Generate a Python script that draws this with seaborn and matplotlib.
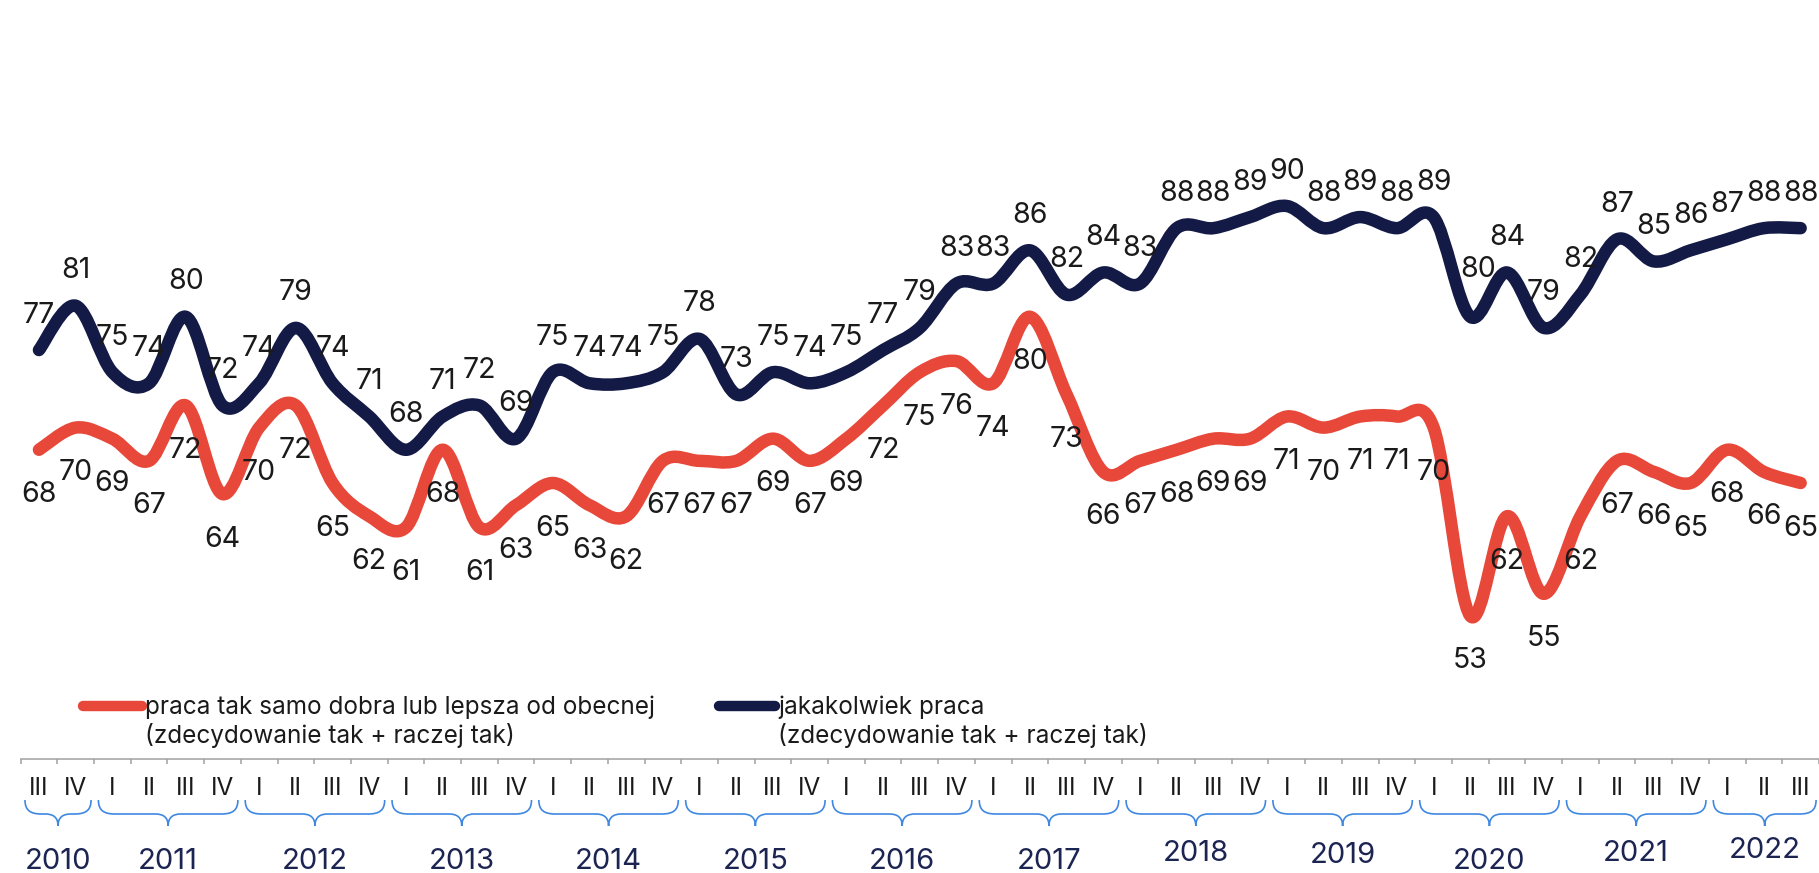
import numpy as np
import matplotlib
matplotlib.use("Agg")
import matplotlib.pyplot as plt
import matplotlib.transforms as mtransforms
from matplotlib.path import Path
from matplotlib.patches import PathPatch
from matplotlib.lines import Line2D
import seaborn as sns

# --- data -----------------------------------------------------------------
years = ["2010", "2011", "2012", "2013", "2014", "2015", "2016",
         "2017", "2018", "2019", "2020", "2021", "2022"]
year_quarters = [["III", "IV"]] + [["I", "II", "III", "IV"]] * 11 + [["I", "II", "III"]]
quarter_labels = [q for qs in year_quarters for q in qs]

any_job = [77, 81, 75, 74, 80, 72, 74, 79, 74, 71, 68, 71, 72, 69, 75, 74, 74,
           75, 78, 73, 75, 74, 75, 77, 79, 83, 83, 86, 82, 84, 83, 88, 88, 89,
           90, 88, 89, 88, 89, 80, 84, 79, 82, 87, 85, 86, 87, 88, 88]
good_job = [68, 70, 69, 67, 72, 64, 70, 72, 65, 62, 61, 68, 61, 63, 65, 63, 62,
            67, 67, 67, 69, 67, 69, 72, 75, 76, 74, 80, 73, 66, 67, 68, 69, 69,
            71, 70, 71, 71, 70, 53, 62, 55, 62, 67, 66, 65, 68, 66, 65]

label_good = ["praca tak samo dobra lub lepsza od obecnej", "(zdecydowanie tak + raczej tak)"]
label_any = ["jakakolwiek praca", "(zdecydowanie tak + raczej tak)"]

# small vertical nudges (px) of the year captions, as in the original
year_dy = [0, 0, 0, 0, 0, 0, 0, 0, -8, -6, 0, -8, -11]
# label nudges (px) for the dark series where the label sits off the default spot
any_nudge = {39: (8, 12)}

RED = "#E8483A"
NAVY = "#131A45"
BRACE = "#3F88E2"
YEARCOL = "#1C2452"
TXT = "#1a1a1a"
GRAY = "#a0a0a0"

W, H = 1819, 873

sns.set_theme(style="white")
plt.rcParams["font.family"] = ["Inter", "DejaVu Sans"]


def fx(px):
    return px / W


def fy(py):
    return 1 - py / H


def smooth_path(xs, ys):
    # Catmull-Rom style smoothing, drawn as cubic bezier segments
    pts = np.column_stack([xs, ys]).astype(float)
    n = len(pts)
    verts = [pts[0]]
    codes = [Path.MOVETO]
    for i in range(n - 1):
        p0 = pts[max(i - 1, 0)]
        p1 = pts[i]
        p2 = pts[i + 1]
        p3 = pts[min(i + 2, n - 1)]
        verts += [p1 + (p2 - p0) / 6, p2 - (p3 - p1) / 6, p2]
        codes += [Path.CURVE4] * 3
    return Path(verts, codes)


fig = plt.figure(figsize=(W / 100, H / 100), dpi=100)
ax = fig.add_axes([fx(20.6), fy(759), 1 - fx(20.6), 759 / H])

x = np.arange(len(any_job))
ax.set_xlim(-0.5, len(x) - 0.5)
ax.set_ylim(90 - 553 / 11.08, 90 + 206 / 11.08)

for vals, col in [(good_job, RED), (any_job, NAVY)]:
    patch = PathPatch(smooth_path(x, vals), facecolor="none", edgecolor=col,
                      lw=9, capstyle="round", joinstyle="round", zorder=3)
    ax.add_patch(patch)

for i, v in enumerate(any_job):
    dx, dy = any_nudge.get(i, (0, 0))
    ax.annotate(str(v), (i, v), xytext=(dx, 27.5 + dy), textcoords="offset pixels",
                ha="center", va="baseline", fontsize=20.5, color=TXT, zorder=4)
for i, v in enumerate(good_job):
    ax.annotate(str(v), (i, v), xytext=(0, -52.5), textcoords="offset pixels",
                ha="center", va="baseline", fontsize=20.5, color=TXT, zorder=4)

# axis
for s in ["top", "right", "left"]:
    ax.spines[s].set_visible(False)
ax.spines["bottom"].set_color(GRAY)
ax.spines["bottom"].set_linewidth(1.1)
ax.set_yticks([])
ax.set_xticks(np.arange(-0.5, len(x), 1))
ax.set_xticklabels([])
ax.tick_params(axis="x", direction="out", length=3.6, width=1.1, color=GRAY, bottom=True)
ax.grid(False)

trans = mtransforms.blended_transform_factory(ax.transData, fig.transFigure)
for i, q in enumerate(quarter_labels):
    ax.text(i, fy(795), q, transform=trans, ha="center", va="baseline",
            fontsize=17.5, color=TXT, clip_on=False)

# year braces and labels
start = 0
for yr, qs, dy in zip(years, year_quarters, year_dy):
    x0 = start - 0.5 + 0.12
    x1 = start + len(qs) - 0.5 - 0.08
    xm = (x0 + x1) / 2
    r, t = 0.45, 0.35
    yt, yf, yp = fy(800), fy(814), fy(826)
    verts = [(x0, yt), (x0, fy(810)), (x0 + r * 0.3, yf), (x0 + r, yf),
             (xm - t, yf),
             (xm - t * 0.4, yf), (xm, fy(817)), (xm, yp),
             (xm, fy(817)), (xm + t * 0.4, yf), (xm + t, yf),
             (x1 - r, yf),
             (x1 - r * 0.3, yf), (x1, fy(810)), (x1, yt)]
    codes = [Path.MOVETO, Path.CURVE4, Path.CURVE4, Path.CURVE4,
             Path.LINETO,
             Path.CURVE4, Path.CURVE4, Path.CURVE4,
             Path.CURVE4, Path.CURVE4, Path.CURVE4,
             Path.LINETO,
             Path.CURVE4, Path.CURVE4, Path.CURVE4]
    ax.add_patch(PathPatch(Path(verts, codes), transform=trans, facecolor="none",
                           edgecolor=BRACE, lw=1.2, clip_on=False))
    ax.text(xm, fy(869 + dy), yr, transform=trans, ha="center", va="baseline",
            fontsize=21, color=YEARCOL, clip_on=False)
    start += len(qs)

# legend
for (lx0, lx1, tx), col, lines in [((83, 142, 145), RED, label_good),
                                   ((719, 775, 778), NAVY, label_any)]:
    fig.add_artist(Line2D([fx(lx0), fx(lx1)], [fy(706), fy(706)], transform=fig.transFigure,
                          color=col, lw=7.5, solid_capstyle="round"))
    fig.text(fx(tx), fy(714), lines[0], ha="left", va="baseline", fontsize=17.5, color=TXT)
    fig.text(fx(tx), fy(743), lines[1], ha="left", va="baseline", fontsize=17.5, color=TXT)

fig.savefig("out.png", dpi=100)
